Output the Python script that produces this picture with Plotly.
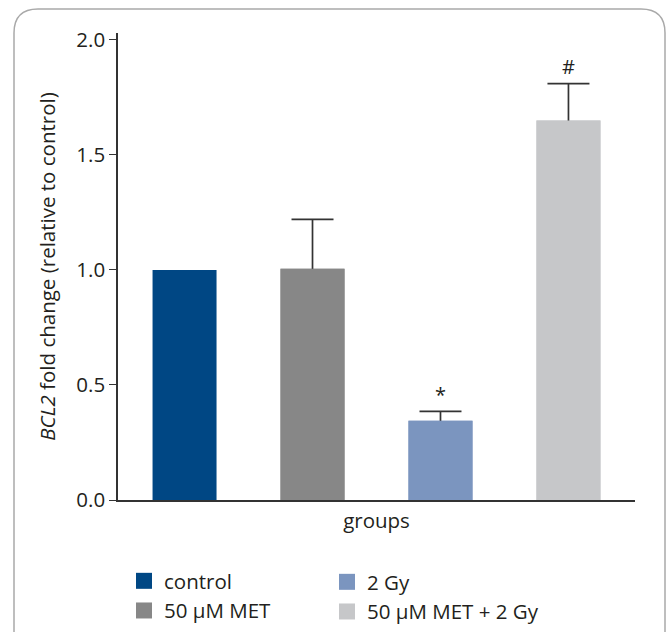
import plotly.graph_objects as go

groups = ["control", "50 µM MET", "2 Gy", "50 µM MET + 2 Gy"]
fold_change = [1.0, 1.005, 0.345, 1.65]
err_plus = [0.0, 0.215, 0.04, 0.16]
bar_colors = ["#004784", "#878787", "#7b95bf", "#c6c7c9"]
sig_marks = ["", "", "*", "#"]
legend_column = ["legend", "legend", "legend2", "legend2"]
y_ticks = [0.0, 0.5, 1.0, 1.5, 2.0]
y_tick_labels = ["0.0", "0.5", "1.0", "1.5", "2.0"]

FONT = "Open Sans"
TXT = "#231f20"
FS = 20.5
HIDDEN_SHOE = 0.03  # lower cap hidden inside the bar (covered by the overlay bar)

fig = go.Figure()
xs = list(range(len(groups)))

# error bars (only groups with a non-zero SD); drawn first, then covered by bars
ex = [i for i in xs if err_plus[i] > 0]
fig.add_trace(go.Bar(
    x=ex, y=[fold_change[i] for i in ex], width=0.5,
    marker=dict(color=[bar_colors[i] for i in ex], line=dict(width=0)),
    error_y=dict(type="data", symmetric=False, array=[err_plus[i] for i in ex],
                 arrayminus=[HIDDEN_SHOE] * len(ex), color="#333333",
                 thickness=1.7, width=21),
    showlegend=False, hoverinfo="skip",
))
fig.add_trace(go.Bar(
    x=xs, y=fold_change, width=0.5,
    marker=dict(color=bar_colors, line=dict(width=0)),
    showlegend=False, hoverinfo="skip",
))
for i, g in enumerate(groups):
    fig.add_trace(go.Scatter(
        x=[None], y=[None], mode="markers", name=g,
        marker=dict(symbol="square", size=16, color=bar_colors[i]),
        legend=legend_column[i], hoverinfo="skip",
    ))

for i, m in enumerate(sig_marks):
    if m:
        fig.add_annotation(x=i, y=fold_change[i] + err_plus[i] + 0.075, text=m,
                           showarrow=False, font=dict(size=20, color=TXT, family=FONT),
                           yanchor="middle")

# rounded frame (pixel geometry converted to paper coords)
L, R, T, B = 118, 32, 33, 132
W, H = 667, 632
pw, ph = W - L - R, H - T - B
def px(x): return (x - L) / pw
def py(y): return (H - B - y) / ph
x0, x1, y0, y1, r = 14, 665, 9, 660, 24
path = (f"M{px(x0+r)},{py(y0)} L{px(x1-r)},{py(y0)} Q{px(x1)},{py(y0)} {px(x1)},{py(y0+r)} "
        f"L{px(x1)},{py(y1-r)} Q{px(x1)},{py(y1)} {px(x1-r)},{py(y1)} "
        f"L{px(x0+r)},{py(y1)} Q{px(x0)},{py(y1)} {px(x0)},{py(y1-r)} "
        f"L{px(x0)},{py(y0+r)} Q{px(x0)},{py(y0)} {px(x0+r)},{py(y0)} Z")
fig.add_shape(type="path", path=path, xref="paper", yref="paper",
              line=dict(color="#a9a9a9", width=1.5), layer="below")

leg_common = dict(orientation="v", xanchor="left", yanchor="top",
                  font=dict(size=FS), traceorder="normal", itemclick=False,
                  tracegroupgap=0, bgcolor="rgba(0,0,0,0)")
fig.update_layout(
    width=W, height=H,
    barmode="overlay",
    margin=dict(l=L, r=R, t=T, b=B, pad=0, autoexpand=False),
    paper_bgcolor="white", plot_bgcolor="white",
    font=dict(family=FONT, color=TXT, size=FS),
    xaxis=dict(range=[-0.52, 3.52], showticklabels=False, ticks="",
               showgrid=False, zeroline=False, showline=True,
               linecolor="#333333", linewidth=1.5,
               title=dict(text="groups", font=dict(size=FS), standoff=13)),
    yaxis=dict(range=[0, 2.03], tickvals=y_ticks, ticktext=y_tick_labels,
               ticks="outside", ticklen=7, tickwidth=1.2, tickcolor="#333333",
               showgrid=False, zeroline=False, showline=True,
               linecolor="#333333", linewidth=1.5, tickfont=dict(size=FS),
               title=dict(text="<i>BCL2</i> fold change (relative to control)",
                          font=dict(size=FS), standoff=15)),
    legend=dict(x=px(124), y=py(561), **leg_common),
    legend2=dict(x=px(327), y=py(562), **leg_common),
    showlegend=True,
)

fig.write_html(
    "out.html",
    config={"displayModeBar": False},
    post_script="document.body.style.margin='0';document.body.style.overflow='hidden';"
                "document.documentElement.style.overflow='hidden';",
)
